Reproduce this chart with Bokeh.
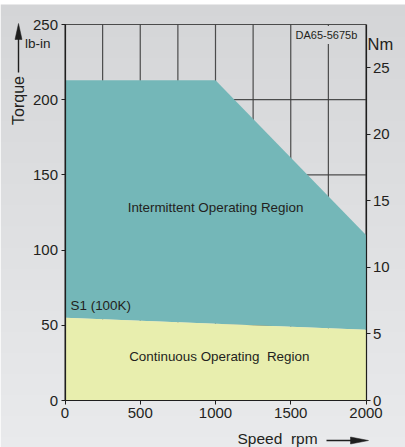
import numpy as np
from bokeh.plotting import figure
from bokeh.models import (Range1d, LinearAxis, FixedTicker, Label, GlobalInlineStyleSheet)
from bokeh.embed import file_html
from bokeh.resources import INLINE

# ---- data ----
peak_speed = [0, 1000, 2000]          # rpm
peak_torque = [213, 213, 110]         # lb-in
cont_speed = [0, 2000]                # rpm
cont_torque = [55, 47]                # lb-in
x_ticks = [0, 500, 1000, 1500, 2000]
y_ticks = [0, 50, 100, 150, 200, 250]
nm_ticks = [0, 5, 10, 15, 20, 25]
grid_speed = [0, 250, 500, 750, 1000, 1250, 1500, 1750, 2000]
grid_torque = [50, 100, 150, 200, 250]
X_MAX, Y_MAX = 2000, 250
LBIN_TO_NM = 0.113

BG_TOP = (0xd4, 0xd5, 0xd7)
BG_BOT = (0xe9, 0xea, 0xec)
LABEL_BG = "#d6d7d9"
TEAL = "#74b7b8"
YELLOW = "#e8eeae"
TXT = "#231f20"
DARK = "#1e1e1e"
FONT = "Liberation Sans"
NB = "\u00a0"

# page-pixel geometry of the plotting area
W, H = 405, 447
TOP_STRIP = 4
FX0, FY0 = 64.5, 400.0
SX = 301.0 / X_MAX
SY = 376.0 / Y_MAX
def dx(px): return (px - FX0) / SX
def dy(py): return (FY0 - py) / SY

p = figure(width=W, height=H, output_backend="svg", toolbar_location=None,
           x_range=Range1d(dx(0), dx(W)), y_range=Range1d(dy(H), dy(0)),
           x_axis_location=None, y_axis_location=None, min_border=0)
p.background_fill_color = "white"
p.border_fill_color = "white"
p.outline_line_color = None
for g in p.grid:
    g.visible = False

# soft vertical background gradient (decoration); row 0 is the bottom row
n = H - TOP_STRIP
t = np.linspace(0.0, 1.0, n)[:, None]
img = np.zeros((n, 1, 4), dtype=np.uint8)
for k in range(3):
    img[:, :, k] = np.round(BG_BOT[k] + (BG_TOP[k] - BG_BOT[k]) * t).astype(np.uint8)
img[:, :, 3] = 255
p.image_rgba(image=[img.view(np.uint32).reshape(n, 1)], x=dx(0), y=dy(H),
             dw=dx(W) - dx(0), dh=dy(TOP_STRIP) - dy(H))

# grid lines
p.segment(x0=grid_speed, y0=0, x1=grid_speed, y1=Y_MAX, line_color="#3c3c3c", line_width=1.2, line_alpha=0.9)
p.segment(x0=0, y0=grid_torque, x1=X_MAX, y1=grid_torque, line_color="#3c3c3c", line_width=1.2, line_alpha=0.9)

# regions
ix = peak_speed + cont_speed[::-1]
iy = peak_torque + cont_torque[::-1]
p.patch(ix, iy, fill_color=TEAL, line_color=None)
cx = cont_speed + cont_speed[::-1]
cy = cont_torque + [0, 0]
p.patch(cx, cy, fill_color=YELLOW, line_color=None)

# axes
def style_axis(ax):
    ax.axis_line_color = DARK
    ax.axis_line_width = 1.2
    ax.major_tick_line_color = DARK
    ax.major_tick_out = 4
    ax.major_tick_in = 0
    ax.minor_tick_line_color = None
    ax.major_label_text_font = FONT
    ax.major_label_text_font_size = "15px"
    ax.major_label_text_color = TXT
    ax.major_label_standoff = 3

lax = LinearAxis(fixed_location=0, bounds=(0, Y_MAX), ticker=FixedTicker(ticks=y_ticks))
style_axis(lax)
p.add_layout(lax, "left")
bax = LinearAxis(fixed_location=0, bounds=(0, X_MAX), ticker=FixedTicker(ticks=x_ticks))
style_axis(bax)
p.add_layout(bax, "below")
p.extra_y_ranges = {"nm": Range1d(dy(H) * LBIN_TO_NM, dy(0) * LBIN_TO_NM)}
rax = LinearAxis(y_range_name="nm", fixed_location=X_MAX, bounds=(0, Y_MAX * LBIN_TO_NM),
                 ticker=FixedTicker(ticks=nm_ticks))
style_axis(rax)
p.add_layout(rax, "right")

# texts
def lab(x, y, t, size="13px", align="left", baseline="middle", angle=0, **kw):
    l = Label(x=x, y=y, text=t, text_font=FONT, text_font_size=size, text_color=TXT,
              text_align=align, text_baseline=baseline, angle=angle, **kw)
    p.add_layout(l)
    return l

lab(1000, 128, "Intermittent Operating Region", size="13.4px", align="center")
lab(1025, 29, "Continuous Operating" + NB + NB + "Region", size="13.4px", align="center")
lab(37, 63, "S1 (100K)", size="13.4px")
lab(1512, 243, "DA65-5675b", size="11px", background_fill_color=LABEL_BG, padding=3)
lab(dx(50), dy(43), "lb-in", size="13.5px", align="right")
lab(dx(367), dy(43), "Nm", size="16.5px")
lab(dx(18), dy(100), "Torque", size="16px", align="center", angle=np.pi / 2)
lab(dx(237), dy(438), "Speed" + NB + NB + "rpm", size="15.5px")

# arrows: shaft + filled head
p.segment(x0=[dx(18), dx(326)], y0=[dy(72), dy(440)], x1=[dx(18), dx(352)], y1=[dy(36), dy(440)],
          line_color=DARK, line_width=1.4)
p.patches(xs=[[dx(14.5), dx(18), dx(21.5)], [dx(350), dx(368), dx(350)]],
          ys=[[dy(39), dy(23), dy(39)], [dy(436.5), dy(440), dy(443.5)]],
          fill_color=DARK, line_color=DARK, line_width=0.5)

p.stylesheets = [GlobalInlineStyleSheet(css="html, body { background-color: white; }")]

open("out.html", "w").write(file_html(p, INLINE))
